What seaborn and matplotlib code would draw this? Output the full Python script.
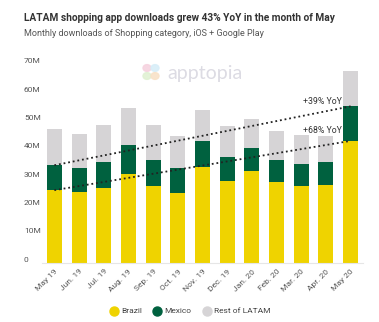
import matplotlib
matplotlib.use("Agg")
import matplotlib.pyplot as plt
import seaborn as sns
import pandas as pd
import numpy as np

months = ["May 19", "Jun. 19", "Jul. 19", "Aug. 19", "Sep. 19", "Oct. 19", "Nov. 19",
          "Dec. 19", "Jan. 20", "Feb. 20", "Mar. 20", "Apr. 20", "May 20"]
brazil = [25.6, 24.9, 26.2, 31.4, 26.9, 24.7, 33.9, 28.9, 32.2, 28.5, 27.2, 27.4, 43.0]
mexico = [8.8, 8.6, 9.2, 10.0, 9.5, 8.7, 8.9, 8.5, 8.2, 7.9, 7.7, 8.1, 12.2]
rest = [12.8, 11.9, 13.2, 13.2, 12.2, 11.3, 11.1, 10.8, 10.5, 10.1, 10.2, 9.3, 12.4]
series = ["Brazil", "Mexico", "Rest of LATAM"]
colors = ["#EFD300", "#00613F", "#D6D4D6"]
ytick_vals = [0, 10, 20, 30, 40, 50, 60, 70]
ytick_labels = ["0", "10M", "20M", "30M", "40M", "50M", "60M", "70M"]
trend_labels = ["+68% YoY", "+39% YoY"]

sns.set_theme(style="white")
plt.rcParams["font.family"] = ["Roboto", "DejaVu Sans"]

df = pd.DataFrame({"month": months, "Brazil": brazil, "Mexico": mexico, "Rest": rest})
df["bm"] = df["Brazil"] + df["Mexico"]
df["total"] = df["bm"] + df["Rest"]

W, H = 379, 322
fig = plt.figure(figsize=(W / 100, H / 100), dpi=100)
ax = fig.add_axes([42 / W, (H - 262.7) / H, (363 - 42) / W, (262.7 - 64.4) / H])

# stacked bars drawn as overlapping cumulative totals
for col, c in zip(["total", "bm", "Brazil"], colors[::-1]):
    sns.barplot(data=df, x="month", y=col, color=c, width=0.61, ax=ax,
                saturation=1, edgecolor="none", linewidth=0)

# dotted YoY trend lines from first to last month
ax.plot([0, 12], [df["Brazil"].iloc[0], df["Brazil"].iloc[-1]], color="#222222",
        linestyle=(0, (1, 1.6)), linewidth=1.3, zorder=5)
ax.plot([0, 12], [df["bm"].iloc[0], df["bm"].iloc[-1]], color="#222222",
        linestyle=(0, (1, 1.6)), linewidth=1.3, zorder=5)
ax.text(11.66, df["Brazil"].iloc[-1] + 3.8, trend_labels[0], ha="right", va="center",
        fontsize=6.3, color="#333333")
ax.text(11.66, df["bm"].iloc[-1] + 1.6, trend_labels[1], ha="right", va="center",
        fontsize=6.3, color="#333333")

ax.set_xlim(-0.5, 12.5)
ax.set_ylim(0, 70)
ax.set_xlabel("")
ax.set_ylabel("")
for s in ["top", "right", "left"]:
    ax.spines[s].set_visible(False)
ax.spines["bottom"].set_color("#E6E6E6")
ax.spines["bottom"].set_linewidth(0.8)

ax.set_yticks(ytick_vals)
ax.set_yticklabels(ytick_labels)
ax.tick_params(axis="y", length=0, pad=13, labelsize=6, labelcolor="#555555")
for t in ax.get_yticklabels():
    t.set_ha("left")
    t.set_va("bottom")

ax.set_xticks(range(len(months)))
ax.set_xticklabels(months, rotation=45, ha="right", rotation_mode="anchor")
ax.tick_params(axis="x", length=0, pad=4, labelsize=6, labelcolor="#555555")

# watermark logo
logo_cols = ["#F6D3DF", "#D8EEF8", "#E0F1D3", "#F8E2C8"]
for (dx, dy), lc in zip([(-1, 1), (1, 1), (-1, -1), (1, -1)], logo_cols):
    fig.patches.append(matplotlib.patches.Circle(((151 + dx * 4) / W, 1 - (72 - dy * 4) / H),
                                                 radius=4.0 / W, transform=fig.transFigure,
                                                 color=lc, alpha=0.9, zorder=0))
fig.text(167 / W, 1 - 73 / H, "apptopia", fontsize=14, color="#DCDBE3", va="center",
         ha="left", fontfamily="Lato")

fig.text(24 / W, 1 - 18 / H, "LATAM shopping app downloads grew 43% YoY in the month of May",
         fontsize=7.3, fontweight="bold", color="#333333", va="center")
fig.text(24 / W, 1 - 33 / H, "Monthly downloads of Shopping category, iOS + Google Play",
         fontsize=6.5, color="#555555", va="center")

handles = [plt.Line2D([], [], marker="o", linestyle="", markersize=6.5, color=c) for c in colors]
fig.legend(handles, series, loc="center", bbox_to_anchor=(190 / W, 1 - 311 / H), ncol=3,
           frameon=False, fontsize=6, handletextpad=0.4, columnspacing=1.3,
           labelcolor="#444444", handlelength=1.0)

fig.savefig("out.png", dpi=100)
